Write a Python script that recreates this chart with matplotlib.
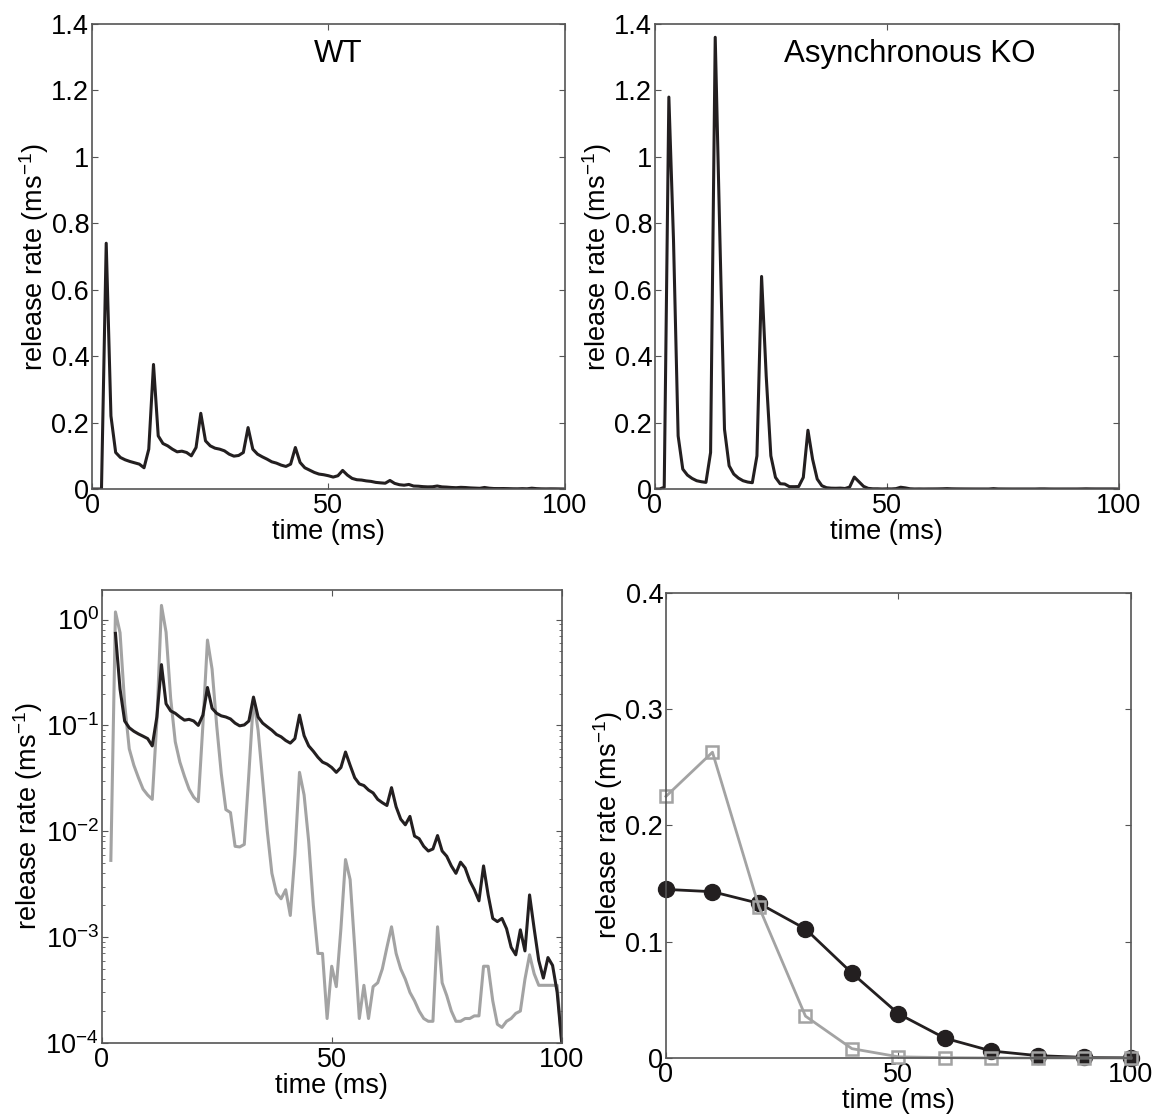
import numpy as np
import matplotlib
matplotlib.use('Agg')
import matplotlib.pyplot as plt
from matplotlib.ticker import FormatStrFormatter

plt.rcParams['font.family'] = ['Liberation Sans', 'DejaVu Sans']
plt.rcParams['mathtext.fontset'] = 'custom'
plt.rcParams['mathtext.rm'] = 'Liberation Sans'
plt.rcParams['mathtext.it'] = 'Liberation Sans:italic'

# time axis (ms), 1 ms sampling
time = np.arange(0, 101)

# release rate, wild type (ms^-1)
wt = [0, 0, 0, 0.74, 0.22, 0.11, 0.095, 0.088, 0.083, 0.079,
      0.075, 0.064, 0.12, 0.375, 0.16, 0.137, 0.13, 0.12, 0.112, 0.114,
      0.11, 0.1, 0.125, 0.228, 0.145, 0.13, 0.123, 0.12, 0.115, 0.105,
      0.099, 0.101, 0.11, 0.185, 0.12, 0.105, 0.097, 0.09, 0.082, 0.078,
      0.072, 0.068, 0.075, 0.125, 0.08, 0.064, 0.057, 0.05, 0.045, 0.043,
      0.04, 0.036, 0.04, 0.056, 0.042, 0.032, 0.028, 0.027, 0.0245, 0.023,
      0.02, 0.0186, 0.0175, 0.0258, 0.017, 0.013, 0.0115, 0.0138, 0.009, 0.0085,
      0.0072, 0.0065, 0.0068, 0.0091, 0.0065, 0.0058, 0.0047, 0.004, 0.0051, 0.0045,
      0.0034, 0.0028, 0.0022, 0.0047, 0.0025, 0.0015, 0.0014, 0.0015, 0.0012, 0.0008,
      0.00068, 0.00117, 0.00074, 0.0025, 0.0012, 0.0006, 0.00041, 0.00064, 0.00054, 0.0003,
      0.0001]

# release rate, asynchronous knockout (ms^-1)
ko = [0, 0, 0.0053, 1.18, 0.75, 0.16, 0.06, 0.042, 0.032, 0.025,
      0.022, 0.02, 0.11, 1.36, 0.76, 0.18, 0.07, 0.045, 0.033, 0.025,
      0.021, 0.019, 0.1, 0.64, 0.34, 0.1, 0.035, 0.016, 0.015, 0.0072,
      0.0071, 0.0075, 0.035, 0.177, 0.09, 0.03, 0.01, 0.004, 0.0026, 0.0023,
      0.0028, 0.0016, 0.006, 0.036, 0.022, 0.008, 0.002, 0.0007, 0.0007, 0.00017,
      0.00053, 0.00034, 0.0012, 0.0054, 0.0035, 0.0008, 0.00017, 0.00035, 0.00017, 0.00034,
      0.00037, 0.0005, 0.0008, 0.00125, 0.0007, 0.0005, 0.0004, 0.0003, 0.00025, 0.0002,
      0.00017, 0.00016, 0.00016, 0.00125, 0.00037, 0.00028, 0.0002, 0.00016, 0.00016, 0.00017,
      0.00017, 0.00018, 0.00018, 0.00053, 0.00053, 0.00025, 0.00015, 0.00014, 0.00016, 0.00017,
      0.00019, 0.0002, 0.0004, 0.00068, 0.00045, 0.00035, 0.00035, 0.00035, 0.00035, 0.00035,
      0.0001]

# asynchronous release rate in 10 ms bins
bin_time = [0, 10, 20, 30, 40, 50, 60, 70, 80, 90, 100]
wt_async = [0.145, 0.143, 0.133, 0.111, 0.073, 0.038, 0.017, 0.006, 0.002, 0.0005, 0.0002]
ko_async = [0.225, 0.263, 0.130, 0.036, 0.008, 0.001, 0.0003, 0, 0, 0, 0]

BLACK = '#231f20'
GRAY = '#a3a3a3'
SPINE = '#555555'
FS = 19.5


def style(ax):
    for s in ax.spines.values():
        s.set_color(SPINE)
        s.set_linewidth(1.2)
    ax.tick_params(which='both', direction='in', top=True, right=True,
                   color=SPINE, labelsize=FS, labelcolor='black', pad=2)
    ax.tick_params(axis='x', pad=3)
    ax.tick_params(which='major', length=4)
    ax.tick_params(which='minor', length=2)
    ax.set_xlabel('time (ms)', fontsize=FS, labelpad=0)
    ax.set_ylabel('release rate (ms$^{-1}$)', fontsize=FS, labelpad=0)


fig = plt.figure(figsize=(11.59, 11.16), dpi=100)

axWT = fig.add_axes([0.0794, 0.5618, 0.408, 0.4167])
axKO = fig.add_axes([0.5651, 0.5618, 0.4000, 0.4167])
axLog = fig.add_axes([0.0877, 0.0655, 0.3970, 0.4058])
axBin = fig.add_axes([0.5746, 0.0520, 0.4012, 0.4167])

for ax, data, name, xpos in [(axWT, wt, 'WT', 52), (axKO, ko, 'Asynchronous KO', 55)]:
    ax.plot(time, data, color=BLACK, lw=2.2)
    ax.set_xlim(0, 100)
    ax.set_ylim(0, 1.4)
    ax.set_xticks([0, 50, 100])
    ax.set_yticks(np.arange(0, 1.41, 0.2))
    ax.yaxis.set_major_formatter(FormatStrFormatter('%g'))
    ax.text(xpos, 1.31, name, fontsize=22.5, ha='center', va='center')
    style(ax)

wt_log = np.where(np.array(wt) > 0, wt, np.nan)
ko_log = np.where(np.array(ko) > 0, ko, np.nan)
axLog.plot(time, ko_log, color=GRAY, lw=2.2)
axLog.plot(time, wt_log, color=BLACK, lw=2.2)
axLog.set_yscale('log')
axLog.set_xlim(0, 100)
axLog.set_ylim(1e-4, 1.9)
axLog.set_xticks([0, 50, 100])
axLog.set_yticks([1e-4, 1e-3, 1e-2, 1e-1, 1e0])
style(axLog)

axBin.plot(bin_time, wt_async, color=BLACK, lw=2.0, marker='o', ms=11.5,
           mfc=BLACK, mec=BLACK, clip_on=False)
axBin.plot(bin_time, ko_async, color=GRAY, lw=2.0, marker='s', ms=8.5,
           mfc='none', mec=GRAY, mew=1.8, clip_on=False)
axBin.set_xlim(0, 100)
axBin.set_ylim(0, 0.4)
axBin.set_xticks([0, 50, 100])
axBin.set_yticks([0, 0.1, 0.2, 0.3, 0.4])
axBin.yaxis.set_major_formatter(FormatStrFormatter('%g'))
style(axBin)

fig.savefig('out.png', dpi=100)
